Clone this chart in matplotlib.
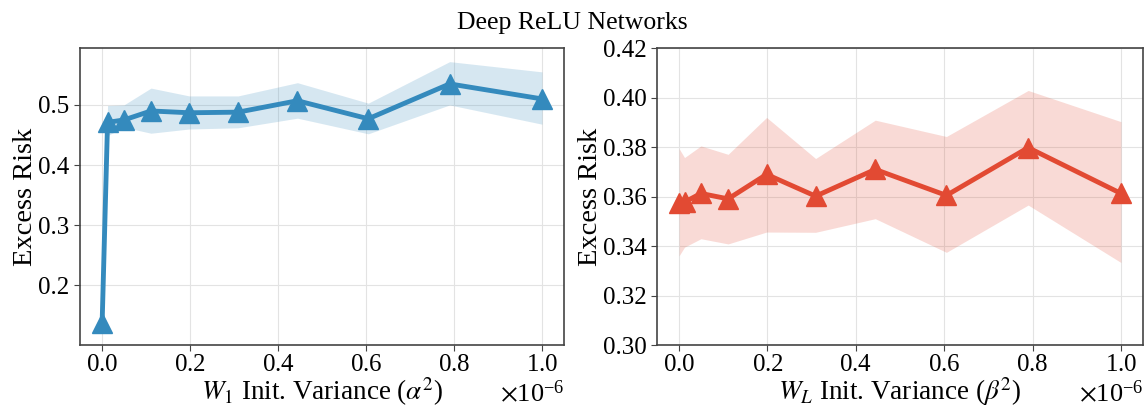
import matplotlib
matplotlib.use("Agg")
import matplotlib.pyplot as plt
import numpy as np

plt.rcParams['font.family'] = 'serif'
plt.rcParams['font.serif'] = ['Liberation Serif', 'DejaVu Serif']
plt.rcParams['mathtext.fontset'] = 'stix'
plt.rcParams['font.size'] = 18

# init variance (x 1e-6)
variance = [0.0, 0.0123, 0.0494, 0.111, 0.198, 0.309, 0.444, 0.605, 0.790, 1.0]

# first layer (alpha^2)
risk_w1 = [0.138, 0.471, 0.475, 0.490, 0.487, 0.488, 0.507, 0.477, 0.535, 0.510]
risk_w1_lo = [0.123, 0.449, 0.463, 0.453, 0.460, 0.462, 0.478, 0.452, 0.500, 0.468]
risk_w1_hi = [0.153, 0.499, 0.500, 0.528, 0.515, 0.515, 0.537, 0.503, 0.572, 0.555]

# last layer (beta^2)
risk_wl = [0.3575, 0.3578, 0.3613, 0.3591, 0.3690, 0.3602, 0.3710, 0.3605, 0.3798, 0.3613]
risk_wl_lo = [0.3361, 0.3396, 0.3430, 0.3409, 0.3457, 0.3456, 0.3511, 0.3375, 0.3566, 0.3334]
risk_wl_hi = [0.3794, 0.3758, 0.3805, 0.3771, 0.3920, 0.3754, 0.3909, 0.3843, 0.4029, 0.3903]

BLUE = '#348ABD'
RED = '#E24A33'

fig = plt.figure(figsize=(11.45, 4.08), dpi=100)
ax1 = fig.add_axes([0.070, 0.154, 0.4226, 0.728])
ax2 = fig.add_axes([0.5738, 0.154, 0.4245, 0.728])

x = np.array(variance) * 1e-6


def draw(ax, y, lo, hi, color, xlabel):
    ax.fill_between(x, lo, hi, color=color, alpha=0.2, linewidth=0)
    ax.plot(x, y, color=color, linewidth=3.5, marker='^', markersize=15)
    ax.grid(True, color='#e3e3e3', linewidth=0.8)
    ax.set_axisbelow(True)
    for s in ax.spines.values():
        s.set_color('#444444')
        s.set_linewidth(1.2)
    ax.tick_params(length=4, width=0.8, color='#444444')
    ax.tick_params(axis='x', pad=2)
    ax.ticklabel_format(axis='x', style='sci', scilimits=(0, 0), useMathText=True)
    ax.xaxis.get_offset_text().set_fontsize(19)
    ax.set_xlabel(xlabel, fontsize=19.5, labelpad=0)
    ax.set_ylabel('Excess Risk', fontsize=20.5, labelpad=0)


draw(ax1, risk_w1, risk_w1_lo, risk_w1_hi, BLUE,
     r'$W_1$ Init. Variance ($\alpha^2$)')
draw(ax2, risk_wl, risk_wl_lo, risk_wl_hi, RED,
     r'$W_L$ Init. Variance ($\beta^2$)')

ax1.set_yticks([0.2, 0.3, 0.4, 0.5])
ax2.set_ylim(0.30, 0.42)
ax2.set_yticks([0.30, 0.32, 0.34, 0.36, 0.38, 0.40, 0.42])
ax2.yaxis.set_major_formatter(matplotlib.ticker.FormatStrFormatter('%.2f'))

fig.suptitle('Deep ReLU Networks', y=0.97, fontsize=18.5)
fig.savefig('out.png', dpi=100)
